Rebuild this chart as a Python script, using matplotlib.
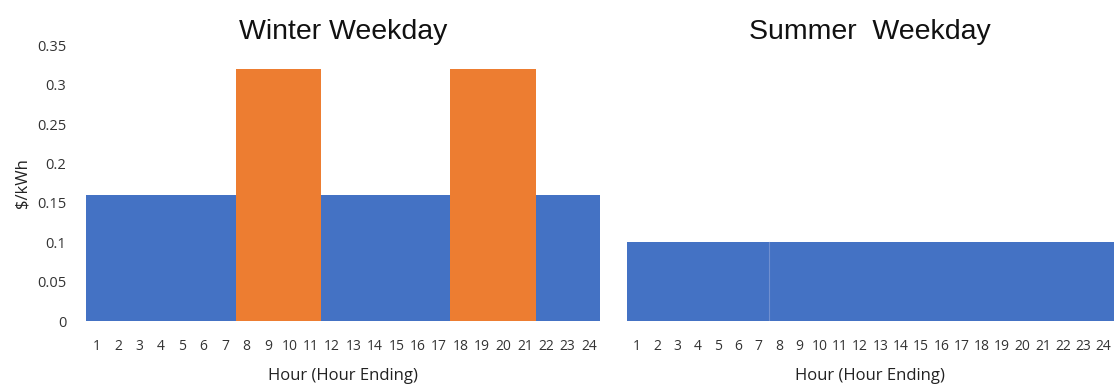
import numpy as np
import matplotlib
matplotlib.use("Agg")
import matplotlib.pyplot as plt

# hourly rates, $/kWh
hours = list(range(1, 25))
winter_rate = [0.16] * 7 + [0.32] * 4 + [0.16] * 6 + [0.32] * 4 + [0.16] * 3
winter_peak = [0] * 7 + [1] * 4 + [0] * 6 + [1] * 4 + [0] * 3
summer_rate = [0.10] * 24
summer_period = [0] * 7 + [1] * 17

yticks = [0, 0.05, 0.1, 0.15, 0.2, 0.25, 0.3, 0.35]
ytick_labels = ["0", "0.05", "0.1", "0.15", "0.2", "0.25", "0.3", "0.35"]

BLUE = "#4472C4"
ORANGE = "#ED7D31"
tick_font = "Open Sans"

fig = plt.figure(figsize=(11.15, 3.86), dpi=100)
ax1 = fig.add_axes([0.077, 0.168, 0.461, 0.715])
ax2 = fig.add_axes([0.562, 0.168, 0.437, 0.715])

colors = [ORANGE if p else BLUE for p in winter_peak]
ax1.bar(hours, winter_rate, width=1.0, color=colors, linewidth=0)
ax2.bar(hours, summer_rate, width=1.0, color=BLUE, linewidth=0)

# faint seam where the summer period changes
for i in range(1, len(hours)):
    if summer_period[i] != summer_period[i - 1]:
        x = (hours[i] + hours[i - 1]) / 2
        ax2.plot([x, x], [0, summer_rate[i]], color="#6f8fd0", lw=0.8)

for ax, title in [(ax1, "Winter Weekday"), (ax2, "Summer  Weekday")]:
    ax.set_xlim(0.5, 24.5)
    ax.set_ylim(0, 0.35)
    for s in ax.spines.values():
        s.set_visible(False)
    ax.set_xticks(hours)
    ax.set_xticklabels([str(h) for h in hours], fontfamily=tick_font, fontsize=10, color="#333333")
    ax.tick_params(axis="x", length=0, pad=13)
    ax.set_xlabel("Hour (Hour Ending)", fontfamily=tick_font, fontsize=12, color="#222222", labelpad=10)
    ax.set_title(title, fontfamily="Liberation Sans", fontsize=20.5, color="#111111", pad=3)

ax1.set_yticks(yticks)
ax1.set_yticklabels(ytick_labels, fontfamily=tick_font, fontsize=10.5, color="#333333")
ax1.tick_params(axis="y", length=0, pad=14)
ax1.set_ylabel("$/kWh", fontfamily=tick_font, fontsize=12, color="#222222", labelpad=5)
ax2.set_yticks([])

fig.savefig("out.png", dpi=100)
